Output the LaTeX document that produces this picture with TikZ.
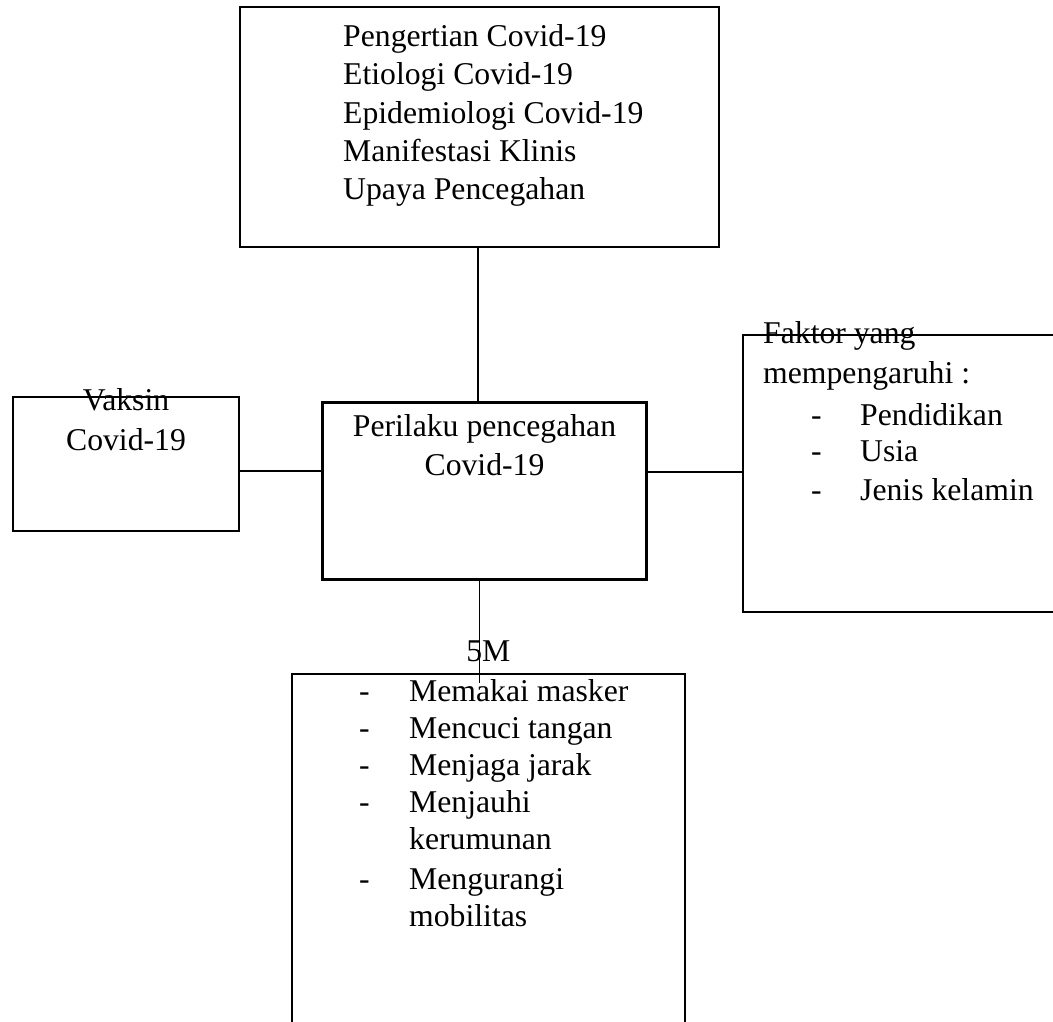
\documentclass[tikz,border=0pt]{standalone}
\usepackage{fontspec}
\setmainfont{Liberation Serif}
\usetikzlibrary{calc}

\begin{document}
\begin{tikzpicture}[x=1pt,y=-1pt,
  box/.style={draw,line width=2.5pt,inner sep=0pt},
  txt/.style={inner sep=0pt,anchor=base west,font=\fontsize{31.7}{38}\selectfont},
  ctxt/.style={txt,anchor=base},
  link/.style={line width=1.3pt}]
  \useasboundingbox (0,0) rectangle (1053,1022);
  \clip (0,0) rectangle (1053,1022);
  % kotak
  \node[box,minimum width=479pt,minimum height=240pt] (materi) at (479.5,127) {};
  \node[box,minimum width=226pt,minimum height=134pt] (vaksin) at (126,464) {};
  \node[box,minimum width=324pt,minimum height=177pt] (perilaku) at (484.5,491) {};
  \node[box,minimum width=330pt,minimum height=277pt] (faktor) at (908,473.5) {};
  \node[box,minimum width=393pt,minimum height=366pt] (lima) at (488.5,857) {};
  % garis penghubung
  \coordinate (atas) at (478,0);
  \coordinate (kiri) at (0,471);
  \coordinate (kanan) at (0,472);
  \coordinate (ekor) at (479.5,683);
  \draw[link] (materi.south -| atas) -- (perilaku.north -| atas);
  \draw[link] (vaksin.east |- kiri) -- (perilaku.west |- kiri);
  \draw[link] (perilaku.east |- kanan) -- (faktor.west |- kanan);
  \draw[link] (perilaku.south -| ekor) -- (ekor);
  % teks
  \foreach \lbl [count=\i] in {Pengertian Covid-19,Etiologi Covid-19,Epidemiologi Covid-19,Manifestasi Klinis,Upaya Pencegahan}
    \node[txt] (materi\i) at (343,{46.7+38.3*(\i-1)}) {\lbl};
  \node[ctxt] (vaksin1) at (126,410) {Vaksin};
  \node[ctxt] (vaksin2) at (126,450) {Covid-19};
  \node[ctxt] (perilaku1) at (484.5,436.7) {Perilaku pencegahan};
  \node[ctxt] (perilaku2) at (484.5,475) {Covid-19};
  \node[txt] (faktor1) at (763,343) {Faktor yang};
  \node[txt] (faktor2) at (763,383.3) {mempengaruhi :};
  \foreach \lbl/\y [count=\i] in {Pendidikan/425,Usia/461.7,Jenis kelamin/500}{
    \node[txt] (fstrip\i) at (811,\y) {-};
    \node[txt] (fitem\i) at (860,\y) {\lbl};
  }
  \node[ctxt] (lima0) at (488.3,661.7) {5M};
  \foreach \lbl/\y [count=\i] in {Memakai masker/701.5,Mencuci tangan/738.5,Menjaga jarak/775.5,Menjauhi/812.5,Mengurangi/889.5}{
    \node[txt] (lstrip\i) at (359,\y) {-};
    \node[txt] (litem\i) at (409,\y) {\lbl};
  }
  \node[txt] (litem6) at (409,849.5) {kerumunan};
  \node[txt] (litem7) at (409,926.5) {mobilitas};
\end{tikzpicture}
\end{document}
